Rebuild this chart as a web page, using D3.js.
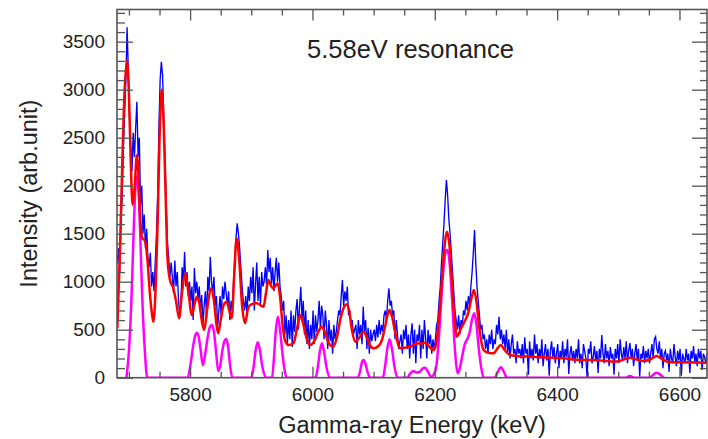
<!DOCTYPE html>
<html><head><meta charset="utf-8">
<script src="https://cdn.jsdelivr.net/npm/d3@7"></script>
<style>
body{margin:0;background:#fff}
svg{display:block}
text{font-family:"Liberation Sans",Arial,Helvetica,sans-serif;fill:#222}
</style>
</head><body>
<svg id="chart" width="708" height="439"></svg>
<script>
// ---- data ----
const titleText = "5.58eV resonance";
const xTitle = "Gamma-ray Energy (keV)";
const yTitle = "Intensity (arb.unit)";

// measured spectrum: channel energies start at binStart, spaced binWidth keV
const binStart = 5681, binWidth = 2;
const measured = [
1200,1350,1100,1600,1900,2400,2750,3100,3650,3200,2700,2400,2150,2550,2300,
2600,2875,2300,2500,1800,2000,1500,1700,1350,1550,1250,1150,1300,950,1100,
900,1200,1500,1900,2600,3100,3290,3150,2700,2300,1800,1400,1250,1050,1200,
1050,880,1220,950,1100,820,650,780,1150,1000,1310,950,1100,850,1000,
800,950,600,1143,880,1000,820,950,700,860,550,750,900,620,1052,
900,1260,1000,880,1050,750,850,520,700,850,620,950,820,1000,880,
750,900,600,800,700,1000,1250,1450,1608,1500,1350,1150,950,800,700,
850,650,950,800,1050,880,1150,700,980,1200,800,1050,750,1100,950,
1000,1150,950,1330,1100,1250,980,1150,900,1100,1250,1000,1200,950,850,
700,800,450,650,350,600,400,700,320,650,480,700,820,500,750,
948,600,800,450,700,350,600,300,550,400,700,350,650,480,600,
800,500,750,650,400,700,550,300,600,380,500,250,550,400,480,
600,700,650,850,1018,750,900,800,950,650,700,550,600,450,500,
550,300,600,450,550,350,740,480,600,300,520,250,500,380,450,
500,380,550,420,600,450,550,480,650,700,600,800,931,750,800,
650,700,400,600,450,300,380,450,250,500,400,550,300,450,200,
450,567,250,500,150,450,380,550,200,500,300,600,420,200,500,
350,450,250,400,300,400,550,600,800,950,1200,1400,1600,1850,2060,
1900,1650,1500,1300,1100,900,700,600,500,650,450,600,550,700,650,
800,700,850,750,950,1100,1300,1538,1200,950,800,650,500,550,400,
450,300,400,250,450,350,500,300,400,350,550,450,635,400,500,
350,450,300,500,250,400,200,350,450,250,300,150,380,250,300,
200,350,150,420,250,300,30,380,200,300,180,450,250,350,150,
300,200,400,120,250,350,180,300,20,280,380,200,320,150,250,
350,100,280,200,380,150,300,220,400,40,250,330,180,280,150,
300,200,400,150,250,100,350,280,200,0,300,250,380,150,220,
330,180,280,50,300,200,445,250,150,350,200,280,120,320,200,
250,30,300,200,350,150,400,250,180,320,200,380,150,280,360,
200,300,120,250,350,180,300,10,250,200,330,150,280,200,300,
150,250,350,200,400,427,300,250,380,200,300,100,250,280,180,
250,60,300,200,150,350,220,120,280,180,300,20,250,200,150,
300,180,250,50,280,200,330,150,250,120,300,200,280,80,250,
220,150,250
];

// fitted total [energy keV, intensity]
const fitTotal = [
[5681,515],[5685,1250],[5689,2200],[5693,3000],[5697,3300],[5700,2950],[5703,2250],[5706,1800],
[5709,1950],[5713,2320],[5716,2050],[5719,1600],[5722,1450],[5726,1430],[5730,1250],[5734,900],
[5737,700],[5740,580],[5744,1000],[5747,1630],[5750,2480],[5753.5,3000],[5757,2600],[5760,1900],
[5763,1250],[5767,1020],[5772,940],[5777,800],[5782,620],[5787,900],[5792,1088],[5797,900],
[5803,653],[5807,760],[5811,844],[5815,780],[5819,600],[5823,497],[5828,720],[5834,931],
[5839,800],[5843,560],[5846,462],[5850,600],[5855,760],[5860,792],[5864,700],[5868,620],
[5872,1050],[5876,1452],[5880,1250],[5885,750],[5890,567],[5894,700],[5898,757],[5909,775],
[5920,740],[5924,880],[5928,1018],[5932,960],[5936,931],[5940,960],[5943,983],[5947,850],
[5951,560],[5955,393],[5961,340],[5969,358],[5975,520],[5980,653],[5985,560],[5990,420],
[5996,340],[6003,380],[6009,470],[6015,531],[6020,480],[6026,370],[6034,323],[6040,420],
[6046,620],[6052,740],[6056,766],[6060,700],[6065,480],[6070,375],[6077,420],[6083,479],
[6089,420],[6094,340],[6100,306],[6108,330],[6114,400],[6119,540],[6123,660],[6126,705],
[6130,640],[6135,480],[6140,350],[6143,306],[6150,312],[6160,323],[6165,340],[6171,358],
[6178,355],[6184,365],[6190,330],[6198,288],[6203,380],[6207,620],[6211,950],[6215,1300],
[6220,1521],[6224,1380],[6228,1000],[6232,650],[6236,427],[6240,470],[6245,540],[6250,601],
[6255,680],[6260,830],[6264,914],[6268,800],[6272,560],[6276,380],[6280,288],[6288,260],
[6296,254],[6303,310],[6308,340],[6314,290],[6323,236],[6340,222],[6356,219],[6385,210],
[6410,202],[6435,184],[6460,184],[6492,167],[6505,180],[6519,208],[6530,190],[6541,174],
[6552,190],[6563,226],[6570,200],[6580,167],[6610,160],[6645,156]
];

// peak components [energy keV, intensity]
const peakComponents = [
[5696,0],[5700,280],[5704,800],[5707,1380],[5710,1900],[5713,2100],[5716,1900],[5719,1380],
[5722,800],[5726,280],[5730,0],[5796,0],[5801,150],[5805,330],[5808,430],[5811,469],[5814,430],
[5817,300],[5821,130],[5825,260],[5829,430],[5832,520],[5835.5,549],[5839,480],[5842,300],
[5846,70],[5849,120],[5853,290],[5856,380],[5859,403],[5862,330],[5865,150],[5869,0],
[5900,0],[5904,120],[5907,280],[5910.7,369],[5914,290],[5918,120],[5925,0],
[5934,0],[5937,200],[5940,480],[5943.4,635],[5947,500],[5951,250],[5955,60],[5958,0],
[6005,0],[6009,120],[6012,270],[6015.4,358],[6019,270],[6023,110],[6029,0],
[6074,0],[6078,70],[6080.5,150],[6083.4,184],[6087,140],[6090,60],[6095,0],
[6115,0],[6119,130],[6122.5,310],[6126,400],[6130,300],[6134,120],[6139,0],
[6155,0],[6160,45],[6165,70],[6170,55],[6175,60],[6180,95],[6184,104],[6189,60],[6194,10],
[6198,30],[6202,100],[6206,350],[6210,750],[6214,1120],[6217,1290],[6220,1330],[6223,1270],
[6226,1050],[6229,730],[6232,380],[6236,90],[6238,46],[6241,100],[6245,230],[6249,350],
[6253,400],[6257,470],[6261,610],[6264.5,670],[6268,560],[6272,300],[6276,100],[6280,0],
[6298,0],[6303,60],[6308,108],[6313,60],[6318,0],[6512,0],[6519,18],[6526,0],
[6551,0],[6556,25],[6560,45],[6563,52],[6567,40],[6574,0]
];

const xMajorTicks = [5800,6000,6200,6400,6600];
const xMinorTicks = [5700,5750,5850,5900,5950,6050,6100,6150,6250,6300,6350,6450,6500,6550];
const yMajorTicks = [0,500,1000,1500,2000,2500,3000,3500];
const yMinorTicks = [100,200,300,400,600,700,800,900,1100,1200,1300,1400,1600,1700,1800,1900,2100,2200,2300,2400,2600,2700,2800,2900,3100,3200,3300,3400,3600,3700,3800];

// ---- layout ----
const L = 117, R = 707, T = 9.5, B = 377.7;
const svg = d3.select("#chart");
const x = d3.scaleLinear().domain([5680.5, 6645]).range([L, R]);
const y = d3.scaleLinear().domain([0, 3835]).range([B, T]);

svg.append("defs").append("clipPath").attr("id","clip")
  .append("rect").attr("x",L).attr("y",T).attr("width",R-L).attr("height",B-T);

const plot = svg.append("g").attr("clip-path","url(#clip)");

const measuredPts = measured.map((v,i)=>[binStart + i*binWidth, v]);
const lineStraight = d3.line().x(d=>x(d[0])).y(d=>y(d[1]));
const lineSmooth = d3.line().x(d=>x(d[0])).y(d=>y(d[1])).curve(d3.curveMonotoneX);

plot.append("path").attr("d", lineStraight(measuredPts))
  .attr("fill","none").attr("stroke","#0000ff").attr("stroke-width",1.35);
plot.append("path").attr("d", lineSmooth(peakComponents))
  .attr("fill","none").attr("stroke","#ff00ff").attr("stroke-width",2.5).attr("stroke-linejoin","round");
plot.append("path").attr("d", lineSmooth(fitTotal))
  .attr("fill","none").attr("stroke","#ff0000").attr("stroke-width",2.5).attr("stroke-linejoin","round");

// ---- axes ----
const axisColor = "#555";
function styleAxis(g){
  g.select(".domain").remove();
  g.selectAll(".tick line").attr("stroke",axisColor).attr("stroke-width",1.3);
  g.selectAll(".tick text").attr("fill","#222").style("font-size","19px")
    .style("font-family",'"Liberation Sans",Arial,Helvetica,sans-serif');
}
svg.append("g").attr("transform",`translate(0,${B})`)
  .call(d3.axisBottom(x).tickValues(xMajorTicks).tickSize(-11).tickPadding(10).tickFormat(d3.format("d"))).call(styleAxis);
svg.append("g").attr("transform",`translate(0,${B})`)
  .call(d3.axisBottom(x).tickValues(xMinorTicks).tickSize(-6).tickFormat("")).call(styleAxis);
svg.append("g").attr("transform",`translate(0,${T})`)
  .call(d3.axisTop(x).tickValues(xMajorTicks).tickSize(-11).tickFormat("")).call(styleAxis);
svg.append("g").attr("transform",`translate(0,${T})`)
  .call(d3.axisTop(x).tickValues(xMinorTicks).tickSize(-6).tickFormat("")).call(styleAxis);
svg.append("g").attr("transform",`translate(${L},0)`)
  .call(d3.axisLeft(y).tickValues(yMajorTicks).tickSize(-16).tickPadding(12).tickFormat(d3.format("d"))).call(styleAxis);
svg.append("g").attr("transform",`translate(${L},0)`)
  .call(d3.axisLeft(y).tickValues(yMinorTicks).tickSize(-8).tickFormat("")).call(styleAxis);
svg.append("g").attr("transform",`translate(${R},0)`)
  .call(d3.axisRight(y).tickValues(yMajorTicks).tickSize(-15).tickFormat("")).call(styleAxis);
svg.append("g").attr("transform",`translate(${R},0)`)
  .call(d3.axisRight(y).tickValues(yMinorTicks).tickSize(-7).tickFormat("")).call(styleAxis);

svg.append("rect").attr("x",L).attr("y",T).attr("width",R-L).attr("height",B-T)
  .attr("fill","none").attr("stroke",axisColor).attr("stroke-width",1.6);

// ---- texts ----
svg.append("text").attr("x",(L+R)/2).attr("y",433).attr("text-anchor","middle")
  .style("font-size","23.5px").text(xTitle);
svg.append("text").attr("transform",`translate(37,${(T+B)/2}) rotate(-90)`).attr("text-anchor","middle")
  .style("font-size","23.5px").text(yTitle);
svg.append("text").attr("x",307).attr("y",58).style("font-size","25.5px").text(titleText);
</script>
</body></html>
